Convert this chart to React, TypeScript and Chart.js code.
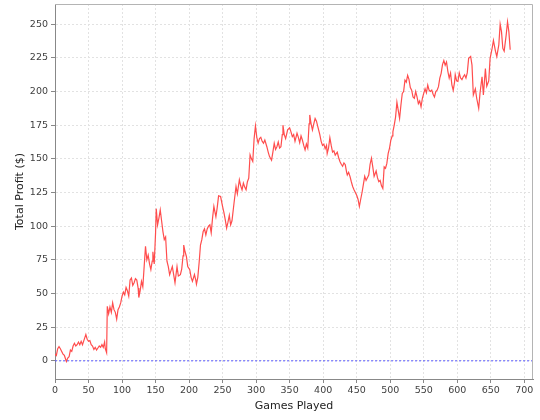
import React, { useEffect, useRef } from "react";
import { Chart, registerables } from "chart.js";

Chart.register(...registerables);

const games: number[] = [
  0, 2, 4, 6, 8, 10, 12, 14, 16, 17, 19, 21, 23, 25, 27, 29, 31, 33, 35, 37, 39, 41, 43, 46, 48, 50,
  52, 54, 56, 58, 60, 62, 64, 66, 68, 70, 72, 74, 75, 77, 78, 80, 82, 84, 86, 88, 90, 92, 94, 96, 98,
  100, 102, 104, 106, 108, 110, 112, 114, 116, 118, 120, 122, 124, 125, 127, 129, 131, 133, 135, 137,
  139, 141, 143, 145, 146, 148, 150, 151, 153, 155, 157, 159, 161, 163, 165, 167, 169, 171, 173, 175,
  177, 179, 181, 182, 184, 187, 189, 191, 192, 194, 196, 198, 201, 203, 205, 208, 210, 211, 213, 215,
  217, 219, 221, 223, 225, 227, 229, 231, 233, 235, 237, 240, 242, 244, 247, 250, 252, 254, 256, 258,
  260, 262, 264, 267, 270, 272, 275, 277, 279, 281, 283, 285, 287, 289, 291, 293, 295, 297, 299, 301,
  303, 305, 307, 309, 311, 313, 316, 318, 320, 323, 325, 327, 329, 331, 333, 335, 337, 339, 340, 342,
  344, 347, 350, 352, 354, 356, 358, 361, 363, 365, 367, 369, 371, 373, 375, 377, 379, 380, 382, 384,
  386, 388, 390, 392, 395, 397, 399, 401, 403, 405, 406, 408, 410, 412, 414, 416, 418, 421, 423, 425,
  427, 429, 431, 433, 435, 436, 438, 440, 442, 444, 446, 448, 450, 452, 454, 456, 458, 460, 462, 464,
  466, 468, 470, 472, 474, 476, 479, 481, 483, 485, 487, 489, 491, 493, 495, 497, 499, 501, 503, 504,
  506, 508, 510, 512, 514, 516, 518, 520, 522, 524, 526, 528, 530, 532, 534, 536, 538, 540, 542, 544,
  546, 548, 550, 552, 554, 556, 558, 560, 562, 564, 566, 568, 570, 572, 574, 576, 578, 580, 582, 584,
  586, 588, 590, 592, 594, 596, 597, 599, 601, 603, 605, 607, 609, 611, 613, 615, 617, 620, 622, 624,
  627, 629, 632, 634, 637, 639, 642, 644, 647, 649, 652, 654, 657, 659, 662, 664, 666, 668, 670, 672,
  673, 675, 677, 679,
];

const profit: number[] = [
  5, 4, 9, 10.5, 9, 7, 5, 4, 1, -0.5, 2, 3, 8, 7, 11, 13, 11, 12, 14, 12, 14.5, 12, 15, 19.5, 16, 14.5,
  15, 12, 11, 8.5, 10, 8, 9.5, 11, 10, 12, 10, 14, 9, 6, 40.5, 35, 40, 36, 43, 38, 36, 31, 38, 40, 43,
  48, 51, 49, 54.5, 52, 48, 60, 61.5, 56, 58, 61, 60, 54, 47, 52, 59, 55, 70, 85, 75,
  78.5, 72, 67.7, 74, 81, 72, 95, 113, 101, 106, 112, 104, 96, 90, 92, 74, 70, 64, 67, 70,
  64, 58, 66, 70, 63, 64, 68, 78, 86, 81, 77.5, 70, 67.7, 62, 59, 64, 60, 57, 62, 73,
  86, 90, 96, 98, 93.5, 98, 100, 101, 95, 106, 114.6, 107, 114, 122.5, 122, 114.6, 110, 104.7, 98.6, 103,
  108, 101, 104, 117, 129.5, 124, 134.4, 130, 127, 132, 129, 127, 133, 135.6, 153, 150, 148, 165, 174.4, 166,
  161.6, 165, 166, 163, 161.6, 164, 159, 155, 151.7, 149, 155, 161.6, 157, 159, 162.5, 158, 159, 168, 175, 168,
  165, 171.5, 173, 170, 166.5, 168, 163, 169, 166, 162, 167, 164, 160, 156.6, 161, 158, 176, 182.6, 176, 171.5,
  176, 180, 178, 174, 168, 163, 160, 161, 157.6, 160, 154, 158, 165.7, 160, 155, 156, 152.8, 155, 151, 148,
  146, 144.5, 147, 145.6, 140, 138, 140, 137, 133, 129.5, 127, 125, 123, 120, 114.6, 120, 125, 131, 137, 134,
  136, 138, 146, 150.5, 144, 137, 141, 136, 133, 134, 130, 128, 144, 143, 146.6, 154, 158, 164, 167, 170,
  175, 181, 192, 186, 180, 190, 198.6, 200, 208.5, 207, 212, 209, 203, 201, 196, 195, 200, 196, 191, 193,
  188.7, 195, 198.6, 202, 199, 204.8, 201, 200, 201, 198, 196, 200, 201, 203.6, 210, 213.5, 220, 223, 219.6, 222,
  215, 210, 213.8, 205, 201, 207, 212.5, 208, 207.6, 213.8, 210, 208.8, 211, 212.5, 210, 214, 224.6, 226, 219.6, 197.4,
  202, 195, 187.5, 199, 211, 197.4, 217, 204, 208, 224.6, 232, 238, 230, 226, 234.6, 250, 244.5, 232, 230, 238,
  242, 251.8, 244.5, 231,
];

const xTickStep = 50;
const yTickStep = 25;
const xMin = 0;
const xMax = 713;
const yMin = -13.5;
const yMax = 265;
const zeroLine: number[] = [0, 0];

const FONT = "'DejaVu Sans', sans-serif";

function stepTicks(min: number, max: number, step: number) {
  const out: { value: number }[] = [];
  for (let v = Math.ceil(min / step) * step; v <= max; v += step) out.push({ value: v });
  return out;
}

export default function App() {
  const ref = useRef<HTMLCanvasElement>(null);

  useEffect(() => {
    const canvas = ref.current;
    if (!canvas) return;

    const outline = {
      id: "outline",
      afterDraw(chart: any) {
        const { ctx, chartArea } = chart;
        ctx.save();
        ctx.strokeStyle = "#b4b4b4";
        ctx.lineWidth = 1;
        ctx.beginPath();
        ctx.moveTo(chartArea.left, chartArea.top + 0.5);
        ctx.lineTo(chartArea.right - 0.5, chartArea.top + 0.5);
        ctx.lineTo(chartArea.right - 0.5, chartArea.bottom);
        ctx.stroke();
        ctx.restore();
      },
    };

    const chart = new Chart(canvas, {
      type: "line",
      data: {
        datasets: [
          {
            label: "zero",
            data: [
              { x: xMin, y: zeroLine[0] },
              { x: xMax, y: zeroLine[1] },
            ],
            borderColor: "#5a5aff",
            borderWidth: 1,
            borderDash: [2, 2],
            pointRadius: 0,
            fill: false,
          },
          {
            label: "Total Profit",
            data: games.map((g, i) => ({ x: g, y: profit[i] })),
            borderColor: "#ff4d4d",
            borderWidth: 1.2,
            pointRadius: 0,
            fill: false,
            tension: 0,
          },
        ],
      },
      options: {
        responsive: false,
        animation: false,
        events: [],
        layout: { padding: { left: 0, top: 4, right: 7, bottom: 0 } },
        plugins: { legend: { display: false }, tooltip: { enabled: false } },
        scales: {
          x: {
            type: "linear",
            min: xMin,
            max: xMax,
            afterBuildTicks: (s: any) => {
              s.ticks = stepTicks(xMin, xMax, xTickStep);
            },
            afterFit: (s: any) => {
              s.height = 41;
              s.paddingLeft = 0;
              s.paddingRight = 0;
            },
            ticks: {
              color: "#404040",
              font: { family: FONT, size: 9.5 },
              padding: 2,
              maxRotation: 0,
              autoSkip: false,
            },
            grid: {
              color: "#e2e2e2",
              tickColor: "#888888",
              tickLength: 4,
              tickBorderDash: [],
            },
            border: { color: "#888888", dash: [2, 2] },
            title: {
              display: true,
              text: "Games Played",
              color: "#222222",
              font: { family: FONT, size: 11 },
              padding: { top: 0, bottom: 7 },
            },
          },
          y: {
            type: "linear",
            min: yMin,
            max: yMax,
            afterBuildTicks: (s: any) => {
              s.ticks = stepTicks(yMin, yMax, yTickStep);
            },
            afterFit: (s: any) => {
              s.width = 55;
              s.paddingTop = 0;
              s.paddingBottom = 0;
            },
            ticks: {
              color: "#404040",
              font: { family: FONT, size: 9.5 },
              padding: 3,
              autoSkip: false,
            },
            grid: {
              color: "#e2e2e2",
              tickColor: "#888888",
              tickLength: 4,
              tickBorderDash: [],
            },
            border: { color: "#888888", dash: [2, 2] },
            title: {
              display: true,
              text: "Total Profit ($)",
              color: "#222222",
              font: { family: FONT, size: 11 },
              padding: { top: 14, bottom: 0 },
            },
          },
        },
      },
      plugins: [outline],
    });

    return () => chart.destroy();
  }, []);

  return (
    <div style={{ position: "absolute", left: 0, top: 0, width: 540, height: 420, background: "#fff" }}>
      <canvas ref={ref} width={540} height={420} />
    </div>
  );
}
